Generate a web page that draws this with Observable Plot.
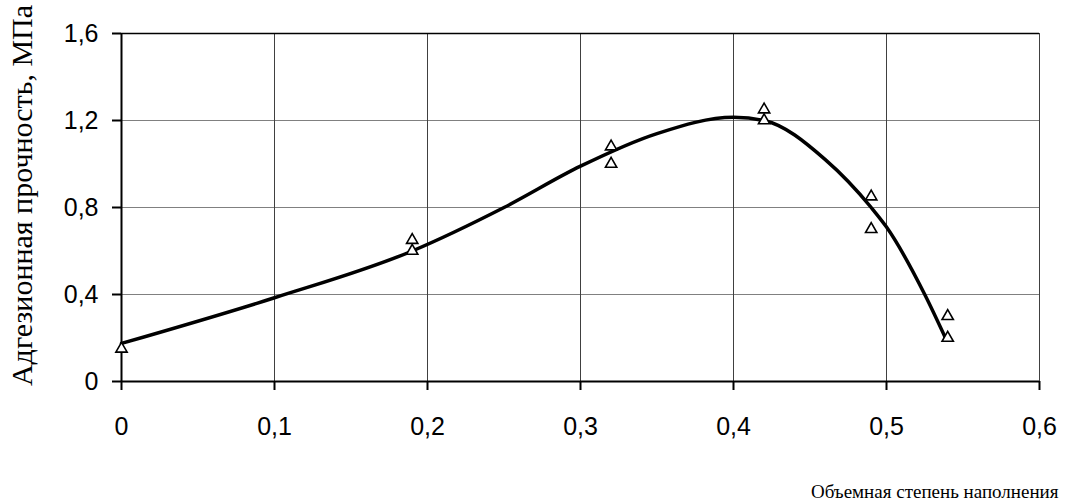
<!DOCTYPE html>
<html>
<head>
<meta charset="utf-8">
<script src="https://cdn.jsdelivr.net/npm/d3@7"></script>
<script src="https://cdn.jsdelivr.net/npm/@observablehq/plot@0.6"></script>
<style>
  html, body { margin: 0; padding: 0; background: #fff; }
  #chart svg { display: block; overflow: visible; }
</style>
</head>
<body>
<div id="chart"></div>
<script>
// Measured points (volume fill fraction, adhesion strength MPa)
const pointX = [0, 0.19, 0.19, 0.32, 0.32, 0.42, 0.42, 0.49, 0.49, 0.54, 0.54];
const pointY = [0.15, 0.65, 0.60, 1.08, 1.00, 1.25, 1.20, 0.85, 0.70, 0.30, 0.20];

// Smoothed trend curve
const curveX = [0, 0.1, 0.19, 0.25, 0.3, 0.35, 0.4, 0.42, 0.46, 0.49, 0.5, 0.525, 0.539];
const curveY = [0.175, 0.385, 0.6, 0.8, 0.99, 1.14, 1.215, 1.2, 1.02, 0.8, 0.71, 0.4, 0.193];

const xTicks = [0, 0.1, 0.2, 0.3, 0.4, 0.5, 0.6];
const yTicks = [0, 0.4, 0.8, 1.2, 1.6];

const xTitle = "Объемная степень наполнения";
const yTitle = "Адгезионная прочность, МПа";

const points = pointX.map((x, i) => ({x, y: pointY[i]}));
const curve = curveX.map((x, i) => ({x, y: curveY[i]}));
const fmt = d => String(d).replace(".", ",");
const serif = "'Liberation Serif', 'Times New Roman', serif";

const chart = Plot.plot({
  width: 1065,
  height: 504,
  marginLeft: 121,
  marginRight: 26,
  marginTop: 33,
  marginBottom: 123,
  style: {fontFamily: "'Liberation Sans', Arial, sans-serif", background: "#fff"},
  x: {domain: [0, 0.6]},
  y: {domain: [0, 1.6]},
  marks: [
    Plot.gridY(yTicks, {stroke: "#808080", strokeOpacity: 1, strokeWidth: 1}),
    Plot.gridX(xTicks, {stroke: "#404040", strokeOpacity: 1, strokeWidth: 1}),
    Plot.ruleY([1.6], {stroke: "#000", strokeWidth: 1.5}),
    Plot.ruleY([0], {stroke: "#000", strokeWidth: 2}),
    Plot.ruleX([0], {stroke: "#000", strokeWidth: 2}),
    Plot.axisX(xTicks, {tickSize: 9, tickPadding: 27, tickFormat: fmt, fontSize: 25, stroke: "#000", strokeWidth: 2, fill: "#000", label: null}),
    Plot.axisY(yTicks, {tickSize: 9, tickPadding: 14, tickFormat: fmt, fontSize: 25, stroke: "#000", strokeWidth: 2, fill: "#000", label: null}),
    Plot.line(curve, {x: "x", y: "y", curve: "monotone-x", stroke: "#000", strokeWidth: 3.5}),
    Plot.dot(points, {x: "x", y: "y", symbol: "triangle", r: 4.2, fill: "#fff", stroke: "#000", strokeWidth: 1.6}),
    Plot.text([yTitle], {frameAnchor: "left", textAnchor: "middle", rotate: -90, dx: -99, dy: -12, fontSize: 30, fontFamily: serif, fill: "#000"}),
    Plot.text([xTitle], {frameAnchor: "bottom-right", textAnchor: "end", lineAnchor: "middle", dx: 19, dy: 110, fontSize: 19, fontFamily: serif, fill: "#000"})
  ]
});
document.getElementById("chart").appendChild(chart);
</script>
</body>
</html>
